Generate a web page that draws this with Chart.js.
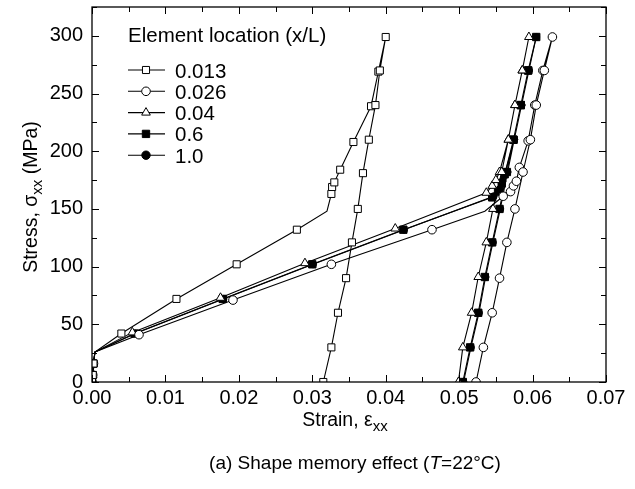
<!DOCTYPE html>
<html>
<head>
<meta charset="utf-8">
<script src="https://cdn.jsdelivr.net/npm/chart.js@4.4.1/dist/chart.umd.min.js"></script>
<style>
  html, body { margin: 0; padding: 0; background: #fff; }
  #wrap { width: 635px; height: 489px; }
</style>
</head>
<body>
<div id="wrap"><canvas id="sme-graph" width="635" height="489"></canvas></div>
<script>
// values: strain (x) and stress in MPa (y), loading then unloading
const seriesLabels = ['0.013', '0.026', '0.04', '0.6', '1.0'];

const strain013 = [0, 0.0001, 0.0002, 0.0004, 0.0040, 0.0115, 0.0197, 0.0279, 0.0320, 0.0326, 0.0327, 0.0330, 0.0338, 0.0356, 0.0380, 0.0390, 0.0400,
  0.0392, 0.0386, 0.0377, 0.0369, 0.0362, 0.0354, 0.0346, 0.0335, 0.0326, 0.0315];
const stress013 = [0, 6, 16, 26, 42, 72, 102, 132, 148, 163, 169, 173, 184, 208, 239, 269, 299,
  270, 240, 210, 181, 150, 121, 90, 60, 30, 0];

const strain026 = [0, 0.0001, 0.0002, 0.0004, 0.0064, 0.0192, 0.0326, 0.0463, 0.0535, 0.0560, 0.0570, 0.0574, 0.0578, 0.0582, 0.0594, 0.0603, 0.0614, 0.0627,
  0.0616, 0.0605, 0.0597, 0.0587, 0.0576, 0.0565, 0.0555, 0.0545, 0.0533, 0.0523];
const stress026 = [0, 6, 16, 26, 41, 71, 102, 132, 148, 161, 165, 170, 174, 186, 209, 240, 270, 299,
  270, 240, 210, 182, 150, 121, 90, 60, 30, 0];

const strain004 = [0, 0.0001, 0.0002, 0.0004, 0.0055, 0.0175, 0.0290, 0.0413, 0.0537, 0.0545, 0.0550, 0.0555, 0.0567, 0.0576, 0.0586, 0.0595,
  0.0586, 0.0576, 0.0567, 0.0558, 0.0546, 0.0537, 0.0526, 0.0517, 0.0505, 0.0499];
const stress004 = [0, 6, 16, 26, 43, 73, 103, 133, 164, 170, 175, 182, 210, 240, 270, 299,
  270, 240, 210, 182, 150, 121, 91, 60, 30, 0];

const strain06 = [0, 0.0001, 0.0002, 0.0004, 0.0058, 0.0178, 0.0300, 0.0424, 0.0545, 0.0553, 0.0558, 0.0562, 0.0574, 0.0584, 0.0594, 0.0605,
  0.0594, 0.0584, 0.0574, 0.0565, 0.0555, 0.0545, 0.0535, 0.0526, 0.0515, 0.0505];
const stress06 = [0, 6, 16, 26, 42, 72, 102, 132, 160, 165, 172, 180, 210, 240, 270, 299,
  270, 240, 210, 182, 150, 121, 91, 60, 30, 0];

const strain10 = [0, 0.0001, 0.0002, 0.0004, 0.0059, 0.0179, 0.0301, 0.0425, 0.0547, 0.0555, 0.0559, 0.0563, 0.0575, 0.0585, 0.0595, 0.0605,
  0.0595, 0.0585, 0.0575, 0.0566, 0.0556, 0.0546, 0.0536, 0.0527, 0.0516, 0.0506];
const stress10 = [0, 6, 16, 26, 42, 72, 102, 132, 161, 167, 174, 182, 210, 240, 270, 299,
  270, 240, 210, 182, 150, 121, 91, 60, 30, 0];

// points on the curves that carry no marker (index into each series)
const unmarked = [[3, 8], [3, 8], [3], [3], [3]];

const xTicks = [0, 0.01, 0.02, 0.03, 0.04, 0.05, 0.06, 0.07];
const yTicks = [0, 50, 100, 150, 200, 250, 300];

const FONT = '"Liberation Sans", Arial, sans-serif';

function pts(xs, ys) {
  return xs.map((x, i) => ({ x: x, y: ys[i] }));
}

// r: size on the curves, lr: size in the legend
const markers = [
  { style: 'rect', fill: '#fff', r: 5, lr: 5 },
  { style: 'circle', fill: '#fff', r: 4.3, lr: 4.3 },
  { style: 'triangle', fill: '#fff', r: 5, lr: 5 },
  { style: 'rect', fill: '#000', r: 5.2, lr: 5.2 },
  { style: 'circle', fill: '#000', r: 3.5, lr: 4.2 }
];

const allData = [
  pts(strain013, stress013),
  pts(strain026, stress026),
  pts(strain004, stress004),
  pts(strain06, stress06),
  pts(strain10, stress10)
];

const datasets = allData.map((d, k) => ({
  label: seriesLabels[k],
  data: d,
  showLine: true,
  borderColor: '#000',
  borderWidth: 1.1,
  pointStyle: markers[k].style,
  pointBackgroundColor: markers[k].fill,
  pointBorderColor: '#000',
  pointBorderWidth: 1,
  pointRadius: (ctx) => unmarked[k].includes(ctx.dataIndex) ? 0 : markers[k].r,
  pointHoverRadius: 0
}));

// frame, inward ticks, axis titles, legend and caption
const decorPlugin = {
  id: 'decor',
  afterDraw(chart) {
    const ctx = chart.ctx;
    const a = chart.chartArea;
    const xs = chart.scales.x, ys = chart.scales.y;
    ctx.save();
    ctx.strokeStyle = '#000';
    ctx.lineWidth = 1.3;
    ctx.strokeRect(a.left, a.top, a.right - a.left, a.bottom - a.top);

    ctx.lineWidth = 1;
    ctx.beginPath();
    for (let v = 0; v <= 0.0701; v += 0.005) {
      const px = Math.round(xs.getPixelForValue(v)) + 0.5;
      const len = Math.abs(v / 0.01 - Math.round(v / 0.01)) < 1e-6 ? 7 : 5;
      ctx.moveTo(px, a.bottom); ctx.lineTo(px, a.bottom - len);
      ctx.moveTo(px, a.top); ctx.lineTo(px, a.top + len);
    }
    for (let v = 0; v <= 325; v += 25) {
      const py = Math.round(ys.getPixelForValue(v)) + 0.5;
      const len = v % 50 === 0 ? 7 : 5;
      ctx.moveTo(a.left, py); ctx.lineTo(a.left + len, py);
      ctx.moveTo(a.right, py); ctx.lineTo(a.right - len, py);
    }
    ctx.stroke();

    ctx.fillStyle = '#000';
    ctx.textBaseline = 'alphabetic';

    // x title: Strain, εxx
    const big = '19.5px ' + FONT, small = '15px ' + FONT;
    ctx.font = big;
    const w1 = ctx.measureText('Strain, ε').width;
    ctx.font = small;
    const w2 = ctx.measureText('xx').width;
    let x0 = 345 - (w1 + w2) / 2;
    ctx.font = big;
    ctx.fillText('Strain, ε', x0, 426);
    ctx.font = small;
    ctx.fillText('xx', x0 + w1, 431);

    // y title: Stress, σxx (MPa)
    ctx.save();
    ctx.translate(37, 197);
    ctx.rotate(-Math.PI / 2);
    ctx.font = big;
    const p1 = 'Stress, σ', p3 = ' (MPa)';
    const m1 = ctx.measureText(p1).width, m3 = ctx.measureText(p3).width;
    ctx.font = small;
    const m2 = ctx.measureText('xx').width;
    let t0 = -(m1 + m2 + m3) / 2;
    ctx.font = big;
    ctx.fillText(p1, t0, 0);
    ctx.font = small;
    ctx.fillText('xx', t0 + m1, 5);
    ctx.font = big;
    ctx.fillText(p3, t0 + m1 + m2, 0);
    ctx.restore();

    // caption
    const c1 = '(a) Shape memory effect (', c2 = 'T', c3 = '=22°C)';
    const cap = '19px ' + FONT, capI = 'italic 19px ' + FONT;
    ctx.font = cap;
    const n1 = ctx.measureText(c1).width, n3 = ctx.measureText(c3).width;
    ctx.font = capI;
    const n2 = ctx.measureText(c2).width;
    let cx = 355 - (n1 + n2 + n3) / 2;
    ctx.font = cap;
    ctx.fillText(c1, cx, 469);
    ctx.font = capI;
    ctx.fillText(c2, cx + n1, 469);
    ctx.font = cap;
    ctx.fillText(c3, cx + n1 + n2, 469);

    // legend inside the plot
    ctx.font = '20.5px ' + FONT;
    ctx.fillText('Element location (x/L)', 128, 42);
    chart.data.datasets.forEach((ds, k) => {
      const ly = 70 + k * 21.3;
      ctx.strokeStyle = '#000';
      ctx.lineWidth = 1.1;
      ctx.beginPath();
      ctx.moveTo(128, ly); ctx.lineTo(165, ly);
      ctx.stroke();
      ctx.fillStyle = markers[k].fill;
      ctx.lineWidth = 1;
      Chart.helpers.drawPoint(ctx, {
        pointStyle: markers[k].style,
        radius: markers[k].lr,
        borderWidth: 1,
        rotation: 0
      }, 146, ly);
      ctx.fillStyle = '#000';
      ctx.fillText(ds.label, 175, ly + 7.5);
    });
    ctx.restore();
  }
};

const ctx = document.getElementById('sme-graph').getContext('2d');
const myChart = new Chart(ctx, {
  type: 'scatter',
  data: { datasets: datasets },
  options: {
    responsive: false,
    animation: false,
    events: [],
    layout: { padding: { left: 0, right: 29, top: 7, bottom: 0 } },
    plugins: {
      legend: { display: false },
      tooltip: { enabled: false }
    },
    scales: {
      x: {
        type: 'linear',
        min: 0,
        max: 0.07,
        afterFit: (s) => { s.height = 107; s.paddingLeft = 0; s.paddingRight = 0; },
        afterBuildTicks: (s) => { s.ticks = xTicks.map(v => ({ value: v })); },
        grid: { display: false, drawTicks: false },
        border: { display: false },
        ticks: {
          padding: 4,
          color: '#000',
          font: { family: FONT, size: 20 },
          maxRotation: 0,
          callback: (v) => v.toFixed(2)
        }
      },
      y: {
        type: 'linear',
        min: 0,
        max: 325,
        afterFit: (s) => { s.width = 92; s.paddingTop = 0; s.paddingBottom = 0; },
        afterBuildTicks: (s) => { s.ticks = yTicks.map(v => ({ value: v })); },
        grid: { display: false, drawTicks: false },
        border: { display: false },
        ticks: {
          padding: 9,
          color: '#000',
          font: { family: FONT, size: 20 },
          callback: (v) => String(v)
        }
      }
    }
  },
  plugins: [decorPlugin]
});
</script>
</body>
</html>
